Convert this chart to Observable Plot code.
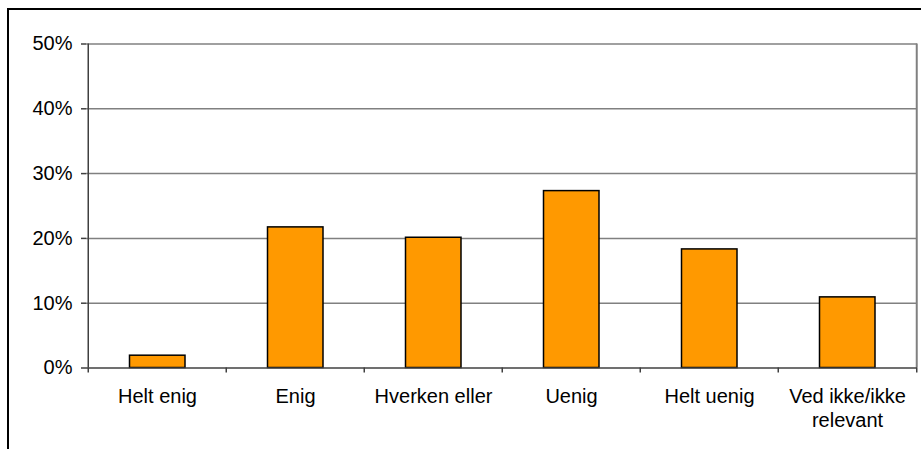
<!DOCTYPE html>
<html>
<head>
<meta charset="utf-8">
<script src="https://cdn.jsdelivr.net/npm/d3@7"></script>
<script src="https://cdn.jsdelivr.net/npm/@observablehq/plot@0.6"></script>
<style>
  html, body { margin: 0; padding: 0; background: #fff; }
  #wrap { position: relative; width: 921px; height: 449px; overflow: hidden; }
  #frame { position: absolute; left: 7px; top: 8px; right: -10px; bottom: -10px;
           border-top: 2px solid #000; border-left: 2px solid #000; pointer-events: none; }
  svg { font-family: "Liberation Sans", Arial, sans-serif; }
</style>
</head>
<body>
<div id="wrap"><div id="frame"></div></div>
<script>
// Survey answers and their shares
const categories = ["Helt enig", "Enig", "Hverken eller", "Uenig", "Helt uenig", "Ved ikke/ikke\nrelevant"];
const shares = [0.019, 0.217, 0.201, 0.273, 0.183, 0.109];
const yTicks = [0, 0.1, 0.2, 0.3, 0.4, 0.5];

const data = categories.map((c, i) => ({category: c, share: shares[i]}));

const W = 921, H = 449;
const mL = 86, mR = 4, mT = 43.5, mB = 81.5;
const half = (W - mL - mR) / categories.length / 2;
const gray = "#808080";
const fs = 20;

const chart = Plot.plot({
  width: W,
  height: H,
  marginLeft: mL,
  marginRight: mR,
  marginTop: mT,
  marginBottom: mB,
  style: {fontFamily: "Liberation Sans, Arial, sans-serif", fontSize: fs + "px", color: "#000", background: "transparent"},
  x: {domain: categories, padding: 0},
  y: {domain: [0, 0.5]},
  marks: [
    // horizontal gridlines
    Plot.ruleY(yTicks.filter(d => d > 0), {stroke: gray, strokeWidth: 1.5}),
    // right edge of plot area
    Plot.ruleX([categories[categories.length - 1]], {dx: half, y1: 0, y2: 0.5, stroke: gray, strokeWidth: 2}),
    Plot.barY(data, {x: "category", y: "share", fill: "#FF9900", stroke: "#000", strokeWidth: 1.5, insetLeft: 41.5, insetRight: 41}),
    // value axis
    Plot.axisY({ticks: yTicks, tickFormat: d3.format(".0%"), tickSize: 5, tickPadding: 9, stroke: "#404040", strokeWidth: 1.5, fill: "#000", fontSize: fs, label: null}),
    Plot.ruleX([0], {x: () => categories[0], dx: -half, y1: 0, y2: 0.5, stroke: "#404040", strokeWidth: 1.5}),
    Plot.ruleY([0], {stroke: "#404040", strokeWidth: 1.5}),
    // category boundary ticks
    Plot.ruleX(categories, {dx: -half, y1: 0, y2: 0, insetBottom: -5, stroke: "#404040", strokeWidth: 1.5}),
    Plot.ruleX([categories[categories.length - 1]], {dx: half, y1: 0, y2: 0, insetBottom: -5, stroke: "#404040", strokeWidth: 1.5}),
    Plot.axisX({tickSize: 0, tickPadding: 18, fontSize: fs, lineHeight: 1.2, fill: "#000", label: null})
  ]
});
document.getElementById("wrap").prepend(chart);
</script>
</body>
</html>
